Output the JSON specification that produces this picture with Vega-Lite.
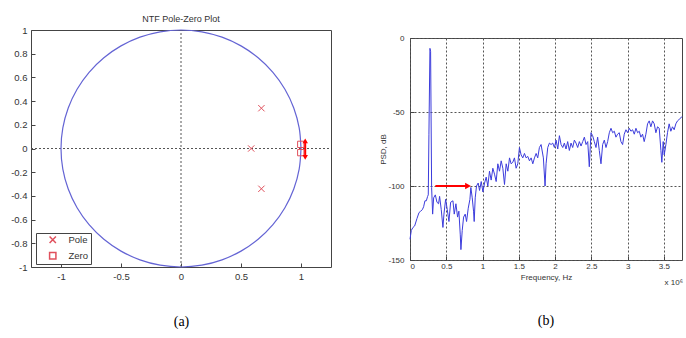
{
  "$schema": "https://vega.github.io/schema/vega-lite/v6.json",
  "background": "white",
  "padding": {"left": 10, "top": 14, "right": 0, "bottom": 0},
  "spacing": 47,
  "config": {
    "font": "Liberation Sans",
    "view": {"stroke": "#444", "strokeWidth": 1},
    "axis": {
      "domain": false,
      "tickColor": "#444",
      "tickSize": -4,
      "labelColor": "#333",
      "labelFont": "Liberation Sans",
      "titleFont": "Liberation Sans",
      "titleFontWeight": "normal",
      "titleColor": "#333"
    }
  },
  "datasets": {
    "circle": [
      {"deg": 0, "re": 1, "im": 0}, {"deg": 10, "re": 0.9848, "im": 0.1736}, {"deg": 20, "re": 0.9397, "im": 0.342},
      {"deg": 30, "re": 0.866, "im": 0.5}, {"deg": 40, "re": 0.766, "im": 0.6428}, {"deg": 50, "re": 0.6428, "im": 0.766},
      {"deg": 60, "re": 0.5, "im": 0.866}, {"deg": 70, "re": 0.342, "im": 0.9397}, {"deg": 80, "re": 0.1736, "im": 0.9848},
      {"deg": 90, "re": 0, "im": 1}, {"deg": 100, "re": -0.1736, "im": 0.9848}, {"deg": 110, "re": -0.342, "im": 0.9397},
      {"deg": 120, "re": -0.5, "im": 0.866}, {"deg": 130, "re": -0.6428, "im": 0.766}, {"deg": 140, "re": -0.766, "im": 0.6428},
      {"deg": 150, "re": -0.866, "im": 0.5}, {"deg": 160, "re": -0.9397, "im": 0.342}, {"deg": 170, "re": -0.9848, "im": 0.1736},
      {"deg": 180, "re": -1, "im": 0}, {"deg": 190, "re": -0.9848, "im": -0.1736}, {"deg": 200, "re": -0.9397, "im": -0.342},
      {"deg": 210, "re": -0.866, "im": -0.5}, {"deg": 220, "re": -0.766, "im": -0.6428}, {"deg": 230, "re": -0.6428, "im": -0.766},
      {"deg": 240, "re": -0.5, "im": -0.866}, {"deg": 250, "re": -0.342, "im": -0.9397}, {"deg": 260, "re": -0.1736, "im": -0.9848},
      {"deg": 270, "re": 0, "im": -1}, {"deg": 280, "re": 0.1736, "im": -0.9848}, {"deg": 290, "re": 0.342, "im": -0.9397},
      {"deg": 300, "re": 0.5, "im": -0.866}, {"deg": 310, "re": 0.6428, "im": -0.766}, {"deg": 320, "re": 0.766, "im": -0.6428},
      {"deg": 330, "re": 0.866, "im": -0.5}, {"deg": 340, "re": 0.9397, "im": -0.342}, {"deg": 350, "re": 0.9848, "im": -0.1736},
      {"deg": 360, "re": 1, "im": 0}
    ],
    "crosshair": [
      {"re": -1.25, "re2": 1.25, "im": 0, "im2": 0},
      {"re": 0, "re2": 0, "im": -1, "im2": 1}
    ],
    "pz": [
      {"re": 0.67, "im": 0.34, "kind": "Pole"},
      {"re": 0.67, "im": -0.34, "kind": "Pole"},
      {"re": 0.585, "im": 0, "kind": "Pole"},
      {"re": 0.998, "im": 0.035, "kind": "Zero"},
      {"re": 0.998, "im": -0.035, "kind": "Zero"}
    ],
    "arrowA": [
      {"re": 1.035, "re2": 1.035, "im": -0.075, "im2": 0.065, "dir": "down"},
      {"re": 1.035, "re2": 1.035, "im": 0.065, "im2": 0.065, "dir": "up"}
    ],
    "psd": [
      {"f": 0, "db": -136}, {"f": 0.018, "db": -130}, {"f": 0.041, "db": -128}, {"f": 0.064, "db": -127},
      {"f": 0.096, "db": -122}, {"f": 0.124, "db": -118}, {"f": 0.147, "db": -117}, {"f": 0.17, "db": -116},
      {"f": 0.188, "db": -114}, {"f": 0.206, "db": -110}, {"f": 0.225, "db": -110}, {"f": 0.243, "db": -107},
      {"f": 0.252, "db": -106}, {"f": 0.261, "db": -65}, {"f": 0.275, "db": -7}, {"f": 0.284, "db": -9},
      {"f": 0.298, "db": -101}, {"f": 0.312, "db": -119}, {"f": 0.326, "db": -108}, {"f": 0.349, "db": -106},
      {"f": 0.372, "db": -111}, {"f": 0.394, "db": -112}, {"f": 0.408, "db": -107}, {"f": 0.431, "db": -116},
      {"f": 0.454, "db": -128}, {"f": 0.468, "db": -119}, {"f": 0.491, "db": -109}, {"f": 0.514, "db": -116},
      {"f": 0.537, "db": -124}, {"f": 0.56, "db": -111}, {"f": 0.592, "db": -110}, {"f": 0.61, "db": -119},
      {"f": 0.633, "db": -112}, {"f": 0.656, "db": -121}, {"f": 0.674, "db": -117}, {"f": 0.693, "db": -133},
      {"f": 0.702, "db": -143}, {"f": 0.72, "db": -130}, {"f": 0.739, "db": -121}, {"f": 0.761, "db": -119},
      {"f": 0.78, "db": -124}, {"f": 0.803, "db": -115}, {"f": 0.826, "db": -109}, {"f": 0.839, "db": -101},
      {"f": 0.858, "db": -108}, {"f": 0.876, "db": -117}, {"f": 0.885, "db": -124}, {"f": 0.899, "db": -108},
      {"f": 0.917, "db": -100}, {"f": 0.94, "db": -98}, {"f": 0.959, "db": -103}, {"f": 0.982, "db": -97},
      {"f": 1.005, "db": -104}, {"f": 1.028, "db": -98}, {"f": 1.05, "db": -94}, {"f": 1.073, "db": -100},
      {"f": 1.096, "db": -90}, {"f": 1.119, "db": -96}, {"f": 1.142, "db": -88}, {"f": 1.165, "db": -92},
      {"f": 1.188, "db": -97}, {"f": 1.211, "db": -85}, {"f": 1.234, "db": -90}, {"f": 1.257, "db": -83},
      {"f": 1.28, "db": -88}, {"f": 1.303, "db": -99}, {"f": 1.326, "db": -85}, {"f": 1.349, "db": -90},
      {"f": 1.372, "db": -81}, {"f": 1.394, "db": -85}, {"f": 1.417, "db": -84}, {"f": 1.44, "db": -81},
      {"f": 1.463, "db": -88}, {"f": 1.486, "db": -85}, {"f": 1.509, "db": -74}, {"f": 1.532, "db": -79},
      {"f": 1.555, "db": -81}, {"f": 1.578, "db": -78}, {"f": 1.601, "db": -81}, {"f": 1.624, "db": -80},
      {"f": 1.647, "db": -83}, {"f": 1.67, "db": -81}, {"f": 1.693, "db": -85}, {"f": 1.716, "db": -81},
      {"f": 1.739, "db": -78}, {"f": 1.761, "db": -81}, {"f": 1.784, "db": -74}, {"f": 1.807, "db": -72},
      {"f": 1.839, "db": -81}, {"f": 1.862, "db": -100}, {"f": 1.876, "db": -85}, {"f": 1.899, "db": -74},
      {"f": 1.922, "db": -71}, {"f": 1.945, "db": -72}, {"f": 1.968, "db": -71}, {"f": 1.991, "db": -74},
      {"f": 2.014, "db": -69}, {"f": 2.037, "db": -75}, {"f": 2.06, "db": -66}, {"f": 2.083, "db": -72},
      {"f": 2.106, "db": -74}, {"f": 2.128, "db": -71}, {"f": 2.151, "db": -75}, {"f": 2.174, "db": -70},
      {"f": 2.197, "db": -76}, {"f": 2.22, "db": -71}, {"f": 2.243, "db": -74}, {"f": 2.266, "db": -69},
      {"f": 2.289, "db": -71}, {"f": 2.312, "db": -74}, {"f": 2.335, "db": -70}, {"f": 2.358, "db": -73},
      {"f": 2.381, "db": -70}, {"f": 2.404, "db": -67}, {"f": 2.427, "db": -72}, {"f": 2.45, "db": -70},
      {"f": 2.472, "db": -87}, {"f": 2.495, "db": -64}, {"f": 2.518, "db": -66}, {"f": 2.541, "db": -70},
      {"f": 2.564, "db": -74}, {"f": 2.587, "db": -67}, {"f": 2.61, "db": -76}, {"f": 2.633, "db": -85},
      {"f": 2.656, "db": -72}, {"f": 2.679, "db": -69}, {"f": 2.702, "db": -74}, {"f": 2.725, "db": -70},
      {"f": 2.748, "db": -64}, {"f": 2.771, "db": -61}, {"f": 2.794, "db": -64}, {"f": 2.817, "db": -63},
      {"f": 2.839, "db": -67}, {"f": 2.862, "db": -65}, {"f": 2.885, "db": -64}, {"f": 2.908, "db": -70},
      {"f": 2.931, "db": -72}, {"f": 2.954, "db": -65}, {"f": 2.977, "db": -62}, {"f": 3.0, "db": -64},
      {"f": 3.023, "db": -61}, {"f": 3.046, "db": -63}, {"f": 3.069, "db": -62}, {"f": 3.092, "db": -65},
      {"f": 3.115, "db": -61}, {"f": 3.138, "db": -64}, {"f": 3.161, "db": -63}, {"f": 3.183, "db": -67},
      {"f": 3.206, "db": -65}, {"f": 3.229, "db": -70}, {"f": 3.252, "db": -65}, {"f": 3.275, "db": -58},
      {"f": 3.298, "db": -56}, {"f": 3.321, "db": -60}, {"f": 3.344, "db": -56}, {"f": 3.367, "db": -58},
      {"f": 3.39, "db": -64}, {"f": 3.413, "db": -60}, {"f": 3.436, "db": -61}, {"f": 3.459, "db": -76},
      {"f": 3.472, "db": -84}, {"f": 3.491, "db": -70}, {"f": 3.505, "db": -79}, {"f": 3.528, "db": -72},
      {"f": 3.55, "db": -64}, {"f": 3.573, "db": -58}, {"f": 3.596, "db": -63}, {"f": 3.619, "db": -60},
      {"f": 3.642, "db": -62}, {"f": 3.665, "db": -58}, {"f": 3.688, "db": -56}, {"f": 3.711, "db": -55},
      {"f": 3.734, "db": -54}, {"f": 3.75, "db": -53}
    ],
    "arrowB": [
      {"f": 0.35, "f2": 0.79, "db": -100, "part": "shaft"},
      {"f": 0.8, "f2": 0.8, "db": -100, "part": "head"}
    ],
    "scaleNote": [
      {"f": 3.75, "db": -150, "label": "x 10⁶"}
    ]
  },
  "hconcat": [
    {
      "width": 300,
      "height": 237,
      "title": {"text": "NTF Pole-Zero Plot", "fontSize": 9, "fontWeight": "normal", "color": "#333", "offset": 1},
      "encoding": {
        "x": {
          "field": "re", "type": "quantitative",
          "scale": {"domain": [-1.25, 1.25], "nice": false, "zero": false},
          "axis": {
            "values": [-1, -0.5, 0, 0.5, 1], "labelExpr": "'' + datum.value", "labelFontSize": 9.5,
            "labelPadding": 8,
            "grid": false, "title": "(a)", "titleFont": "Liberation Serif", "titleFontSize": 14,
            "titleColor": "black", "titlePadding": 34
          }
        },
        "y": {
          "field": "im", "type": "quantitative",
          "scale": {"domain": [-1, 1], "nice": false, "zero": false},
          "axis": {
            "values": [-1, -0.8, -0.6, -0.4, -0.2, 0, 0.2, 0.4, 0.6, 0.8, 1], "labelExpr": "'' + datum.value",
            "labelFontSize": 9.5, "labelPadding": 8, "grid": false, "title": null
          }
        }
      },
      "layer": [
        {
          "data": {"name": "crosshair"},
          "mark": {"type": "rule", "color": "#555", "strokeDash": [2, 2], "strokeWidth": 1},
          "encoding": {"x2": {"field": "re2"}, "y2": {"field": "im2"}}
        },
        {
          "data": {"name": "circle"},
          "mark": {"type": "line", "color": "#6464d4", "strokeWidth": 1.2, "interpolate": "cardinal"},
          "encoding": {"order": {"field": "deg", "type": "quantitative"}}
        },
        {
          "data": {"name": "pz"},
          "mark": {"type": "point", "filled": false, "color": "#e0505c", "strokeWidth": 1, "opacity": 1},
          "encoding": {
            "shape": {
              "field": "kind", "type": "nominal",
              "scale": {"domain": ["Pole", "Zero"], "range": ["M-1,-1L1,1M-1,1L1,-1", "square"]},
              "legend": {
                "title": null, "orient": "none", "legendX": 5, "legendY": 203,
                "strokeColor": "#444", "fillColor": "white", "padding": 2,
                "labelFontSize": 9.5, "labelColor": "#333", "symbolSize": 40, "rowPadding": 3,
                "labelOffset": 11, "symbolOffset": 10
              }
            },
            "size": {"value": 40}
          }
        },
        {
          "data": {"name": "arrowA"},
          "transform": [{"filter": "datum.dir == 'down'"}],
          "mark": {"type": "rule", "color": "#ff0000", "strokeWidth": 2},
          "encoding": {"y2": {"field": "im2"}}
        },
        {
          "data": {"name": "arrowA"},
          "transform": [{"filter": "datum.dir == 'up'"}],
          "mark": {"type": "point", "shape": "triangle-up", "filled": true, "color": "#ff0000", "size": 30, "opacity": 1}
        },
        {
          "data": {"name": "arrowA"},
          "transform": [{"filter": "datum.dir == 'down'"}],
          "mark": {"type": "point", "shape": "triangle-down", "filled": true, "color": "#ff0000", "size": 30, "opacity": 1}
        }
      ]
    },
    {
      "spacing": 2,
      "vconcat": [
        {
          "width": 272,
          "height": 1,
          "data": {"values": []},
          "mark": "point",
          "view": {"stroke": null}
        },
        {
          "width": 272,
          "height": 222,
          "title": {"text": "(b)", "orient": "bottom", "font": "Liberation Serif", "fontSize": 14, "fontWeight": "normal", "color": "black", "offset": 27},
          "encoding": {
            "x": {
              "field": "f", "type": "quantitative",
              "scale": {"domain": [0, 3.75], "nice": false, "zero": false},
              "axis": {
                "values": [0, 0.5, 1, 1.5, 2, 2.5, 3, 3.5], "labelExpr": "'' + datum.value", "labelFontSize": 8,
                "labelPadding": 6,
                "grid": true, "gridColor": "#555", "gridDash": [2, 2], "gridOpacity": 1,
                "title": "Frequency, Hz", "titleFontSize": 8, "titlePadding": 3
              }
            },
            "y": {
              "field": "db", "type": "quantitative",
              "scale": {"domain": [-150, 0], "nice": false, "zero": false},
              "axis": {
                "values": [0, -50, -100, -150], "labelExpr": "'' + datum.value", "labelFontSize": 8,
                "labelPadding": 10,
                "grid": true, "gridColor": "#555", "gridDash": [2, 2], "gridOpacity": 1,
                "title": "PSD, dB", "titleFontSize": 8, "titlePadding": 0
              }
            }
          },
          "layer": [
            {
              "data": {"name": "psd"},
              "mark": {"type": "line", "color": "#3c3cdc", "strokeWidth": 1}
            },
            {
              "data": {"name": "arrowB"},
              "transform": [{"filter": "datum.part == 'shaft'"}],
              "mark": {"type": "rule", "color": "#ff0000", "strokeWidth": 2},
              "encoding": {"x2": {"field": "f2"}}
            },
            {
              "data": {"name": "arrowB"},
              "transform": [{"filter": "datum.part == 'head'"}],
              "mark": {"type": "point", "shape": "triangle-right", "filled": true, "color": "#ff0000", "size": 45, "opacity": 1}
            },
            {
              "data": {"name": "scaleNote"},
              "mark": {"type": "text", "align": "right", "baseline": "middle", "dy": 23, "dx": 1, "fontSize": 8, "color": "#333"},
              "encoding": {"text": {"field": "label"}}
            }
          ]
        }
      ]
    }
  ]
}
